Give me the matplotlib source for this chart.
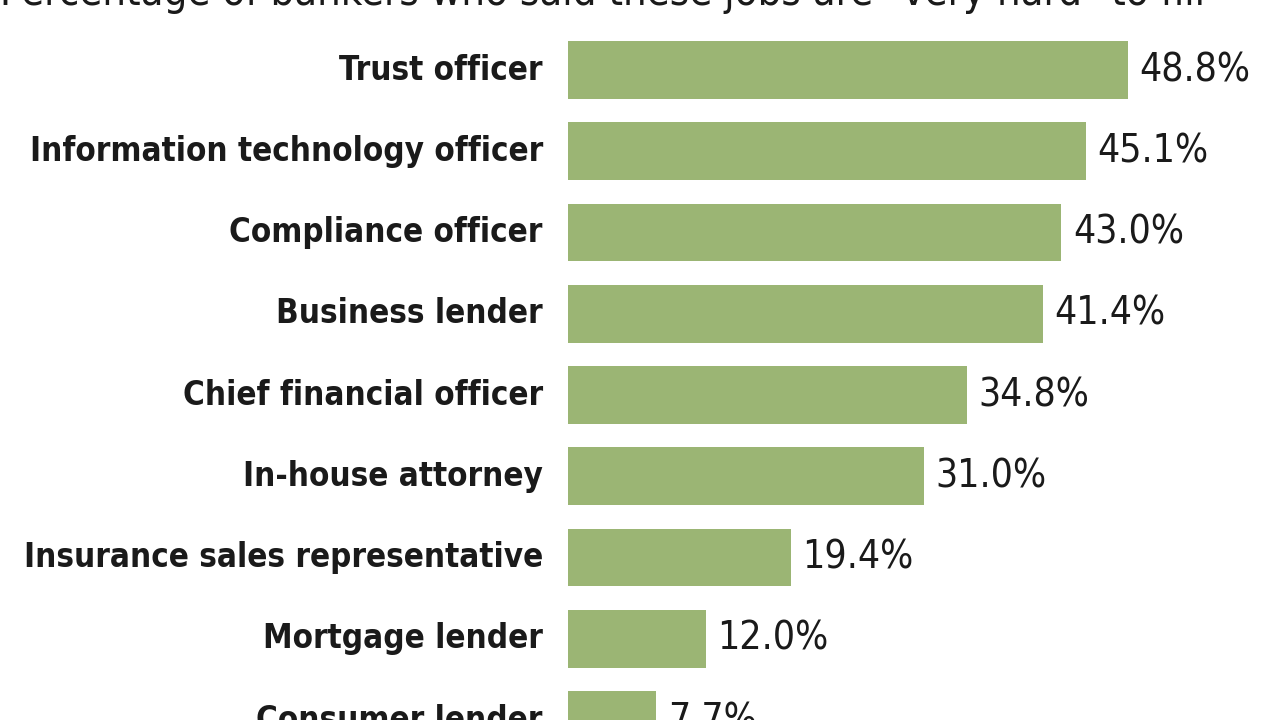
import matplotlib

matplotlib.use("Agg")
import matplotlib.pyplot as plt  # noqa: E402
from matplotlib import font_manager  # noqa: E402

title = 'Percentage of bankers who said these jobs are "very hard" to fill'
jobs = [
    "Trust officer",
    "Information technology officer",
    "Compliance officer",
    "Business lender",
    "Chief financial officer",
    "In-house attorney",
    "Insurance sales representative",
    "Mortgage lender",
    "Consumer lender",
]
pct = [48.8, 45.1, 43.0, 41.4, 34.8, 31.0, 19.4, 12.0, 7.7]

bar_color = "#9bb574"

# use a condensed face if the system has one, else shrink the normal one
fonts = font_manager.fontManager.ttflist
if any("DejaVuSansCondensed" in f.fname for f in fonts):
    fam, stretch, lab_fs, val_fs, ttl_fs = "DejaVu Sans", "condensed", 23.8, 28, 30
else:
    fam, stretch, lab_fs, val_fs, ttl_fs = "DejaVu Sans", "normal", 21, 24, 26

fig = plt.figure(figsize=(12.8, 7.2), dpi=100)
ax = fig.add_axes([568 / 1280, 0, 712 / 1280, 1])

ys = list(range(len(jobs)))
ax.barh(ys, pct, height=0.71, color=bar_color)
ax.set_xlim(0, 62.05)
ax.set_ylim(8, -0.862)
ax.axis("off")

for y, job, v in zip(ys, jobs, pct):
    ax.text(-2.2, y, job, ha="right", va="center", fontsize=lab_fs,
            fontweight="bold", family=fam, stretch=stretch,
            color="#1a1a1a", clip_on=False)
    ax.text(v + 1.0, y, f"{v:.1f}%", ha="left", va="center", fontsize=val_fs,
            family=fam, stretch=stretch, color="#1a1a1a", clip_on=False)

fig.text(0.0, 1.0 - 5 / 720, title, ha="left", va="baseline",
         fontsize=ttl_fs, family=fam, stretch=stretch, color="#1a1a1a")

fig.savefig("out.png", dpi=100, facecolor="white")
plt.close(fig)
